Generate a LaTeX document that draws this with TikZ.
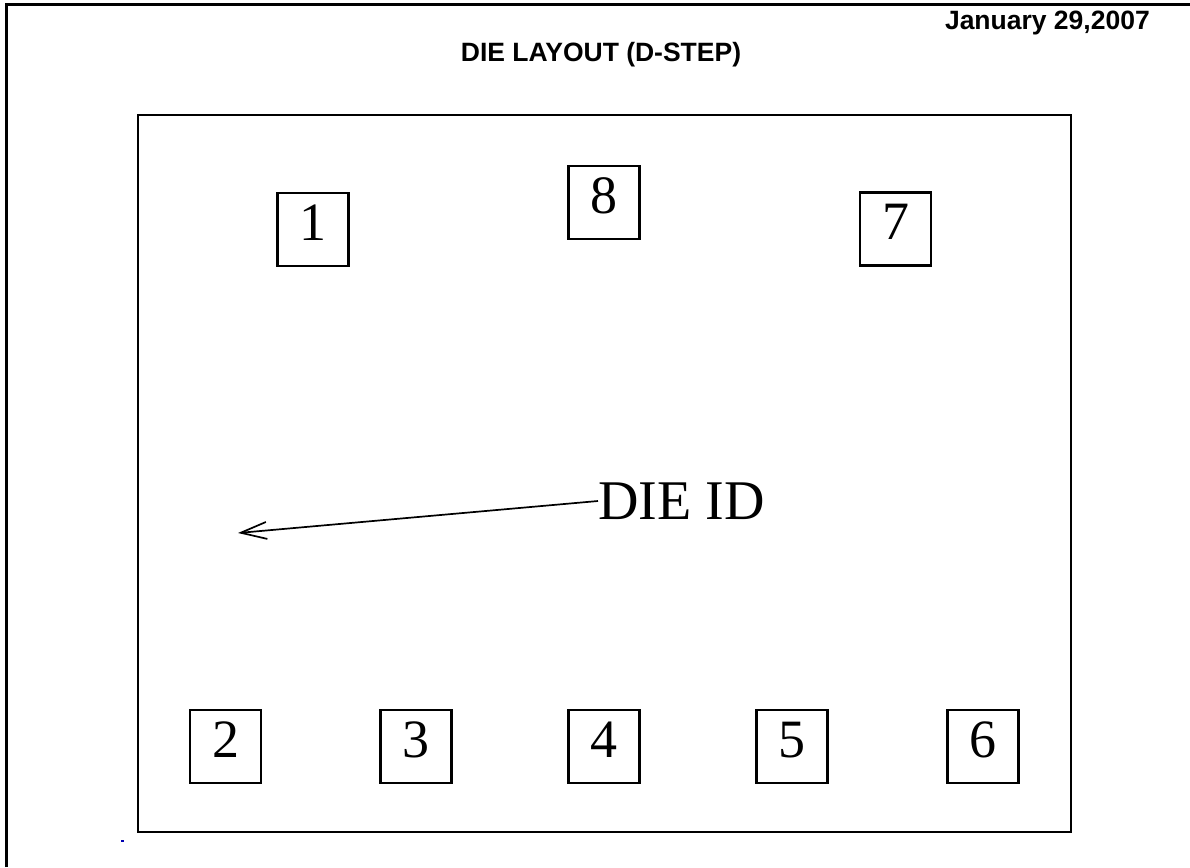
\documentclass[tikz,border=0pt]{standalone}
\usepackage{fontspec}
\setmainfont{Liberation Serif}
\newfontfamily\headfont{Liberation Sans}
\usetikzlibrary{arrows.meta}
\begin{document}
\begin{tikzpicture}[x=1pt,y=-1pt,
    pad/.style={shape=rectangle,draw=black,line width=2.2pt,minimum width=71pt,minimum height=73pt,inner sep=0pt,font=\fontsize{54}{54}\selectfont,text depth=14pt},
    heading/.style={font=\headfont\bfseries\fontsize{26.5}{30}\selectfont,inner sep=0pt}]
    \useasboundingbox (0,0) rectangle (1190,867);
    % sheet frame, cut off at the right and bottom
    \draw[line width=3pt] (6,867) -- (6,5) -- (1190,5);
    \node[heading,anchor=base] (T) at (601,62) {DIE LAYOUT (D-STEP)};
    \node[heading,anchor=base east] (D) at (1150,30) {January 29,2007};

    % die outline
    \draw[line width=2.2pt] (138,115) rectangle (1071,832);

    \node[pad] (P1) at (313,229.5) {1};
    \node[pad] (P8) at (604,202.5) {8};
    \node[pad] (P7) at (895.5,229) {7};
    \node[pad] (P2) at (225.5,746.5) {2};
    \node[pad] (P3) at (416,746.5) {3};
    \node[pad] (P4) at (604,746.5) {4};
    \node[pad] (P5) at (792,746.5) {5};
    \node[pad] (P6) at (983,746.5) {6};

    \node[inner sep=0pt,font=\fontsize{56}{56}\selectfont,anchor=west] (ID) at (598,501) {DIE ID};
    \coordinate (M) at (238,533);
    \draw[line width=1.7pt,-{Straight Barb[length=26pt,width=17pt]}] (ID.west) -- (M);

    \fill[blue!70!black] (121,840) rectangle (124,842);
\end{tikzpicture}
\end{document}
